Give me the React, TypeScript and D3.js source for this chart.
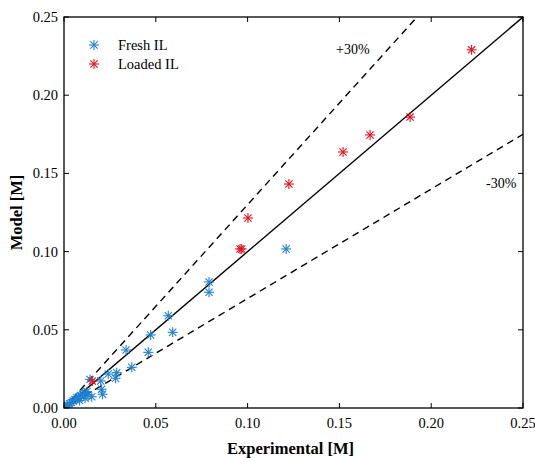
import * as d3 from "d3";
import React from "react";

// Fresh IL: [experimental, model]
const freshX = [0.121, 0.079, 0.079, 0.0568, 0.0592, 0.0472, 0.0459, 0.0338, 0.0369, 0.0287, 0.0281, 0.0241, 0.020, 0.0205, 0.021, 0.0142, 0.0151, 0.0125, 0.011, 0.013, 0.010, 0.009, 0.008, 0.007, 0.006, 0.005, 0.004, 0.003, 0.002, 0.001, 0.0115, 0.0085];
const freshY = [0.1017, 0.0806, 0.074, 0.059, 0.0484, 0.0467, 0.0356, 0.0371, 0.026, 0.0226, 0.019, 0.0217, 0.0173, 0.012, 0.0088, 0.0183, 0.0072, 0.0105, 0.0095, 0.0085, 0.009, 0.008, 0.007, 0.0065, 0.0055, 0.0045, 0.0035, 0.0028, 0.0018, 0.0008, 0.0062, 0.0048];
const loadedX = [0.222, 0.1885, 0.1667, 0.152, 0.1225, 0.1002, 0.0959, 0.0968, 0.0154];
const loadedY = [0.229, 0.186, 0.1746, 0.1637, 0.1432, 0.1215, 0.1017, 0.1017, 0.0173];

const ticks = [0, 0.05, 0.1, 0.15, 0.2, 0.25];
const bounds = [1.3, 1.0, 0.7];

const W = 535, H = 458;
const m = { left: 64, right: 523, top: 17, bottom: 408 };
const font = "'Times New Roman', 'Liberation Serif', serif";
const BLUE = "#1f80d2";
const RED = "#e0131d";

const Star = ({ x, y, c }: { x: number; y: number; c: string }) => {
  const r = 5;
  const d = r * 0.72;
  return (
    <g stroke={c} strokeWidth={1.1}>
      <line x1={x - r} y1={y} x2={x + r} y2={y} />
      <line x1={x} y1={y - r} x2={x} y2={y + r} />
      <line x1={x - d} y1={y - d} x2={x + d} y2={y + d} />
      <line x1={x - d} y1={y + d} x2={x + d} y2={y - d} />
    </g>
  );
};

export default function App() {
  const x = d3.scaleLinear().domain([0, 0.25]).range([m.left, m.right]);
  const y = d3.scaleLinear().domain([0, 0.25]).range([m.bottom, m.top]);
  const fmt = d3.format(".2f");

  const lineEnd = (k: number) => {
    // clip y = k*x to the plot box
    const xe = Math.min(0.25, 0.25 / k);
    return [x(xe), y(k * xe)];
  };

  return (
    <svg width={W} height={H} style={{ position: "absolute", left: 0, top: 0 }} fontFamily={font}>
      <rect width={W} height={H} fill="#fff" />
      <defs>
        <clipPath id="plot">
          <rect x={m.left} y={m.top} width={m.right - m.left} height={m.bottom - m.top} />
        </clipPath>
      </defs>

      {/* reference lines */}
      <g clipPath="url(#plot)">
        {bounds.map((k) => {
          const [x2, y2] = lineEnd(k);
          return (
            <line key={k} x1={x(0)} y1={y(0)} x2={x2} y2={y2} stroke="#000" strokeWidth={1.4}
              strokeDasharray={k === 1 ? undefined : "7,5"} />
          );
        })}
        {freshX.map((v, i) => <Star key={"f" + i} x={x(v)} y={y(freshY[i])} c={BLUE} />)}
        {loadedX.map((v, i) => <Star key={"l" + i} x={x(v)} y={y(loadedY[i])} c={RED} />)}
      </g>

      {/* box */}
      <rect x={m.left} y={m.top} width={m.right - m.left} height={m.bottom - m.top} fill="none" stroke="#000" strokeWidth={1.3} />

      {/* ticks */}
      {ticks.map((t) => (
        <g key={t}>
          <line x1={x(t)} x2={x(t)} y1={m.bottom} y2={m.bottom - 5} stroke="#000" />
          <line x1={x(t)} x2={x(t)} y1={m.top} y2={m.top + 5} stroke="#000" />
          <line x1={m.left} x2={m.left + 5} y1={y(t)} y2={y(t)} stroke="#000" />
          <line x1={m.right} x2={m.right - 5} y1={y(t)} y2={y(t)} stroke="#000" />
          <text x={x(t)} y={428} textAnchor="middle" fontSize={14.5}>{fmt(t)}</text>
          <text x={58} y={y(t) + 5} textAnchor="end" fontSize={14.5}>{fmt(t)}</text>
        </g>
      ))}

      {/* axis labels */}
      <text x={(m.left + m.right) / 2 - 3} y={454} textAnchor="middle" fontSize={16.5} fontWeight="bold">Experimental [M]</text>
      <text transform={`translate(22,${(m.top + m.bottom) / 2}) rotate(-90)`} textAnchor="middle" fontSize={16.5} fontWeight="bold">Model [M]</text>

      {/* annotations */}
      <text x={336} y={54} fontSize={14}>+30%</text>
      <text x={486} y={188} fontSize={14}>-30%</text>

      {/* legend */}
      <Star x={94} y={45} c={BLUE} />
      <text x={118} y={50} fontSize={14.5}>Fresh IL</text>
      <Star x={94} y={64} c={RED} />
      <text x={118} y={69} fontSize={14.5}>Loaded IL</text>
    </svg>
  );
}
